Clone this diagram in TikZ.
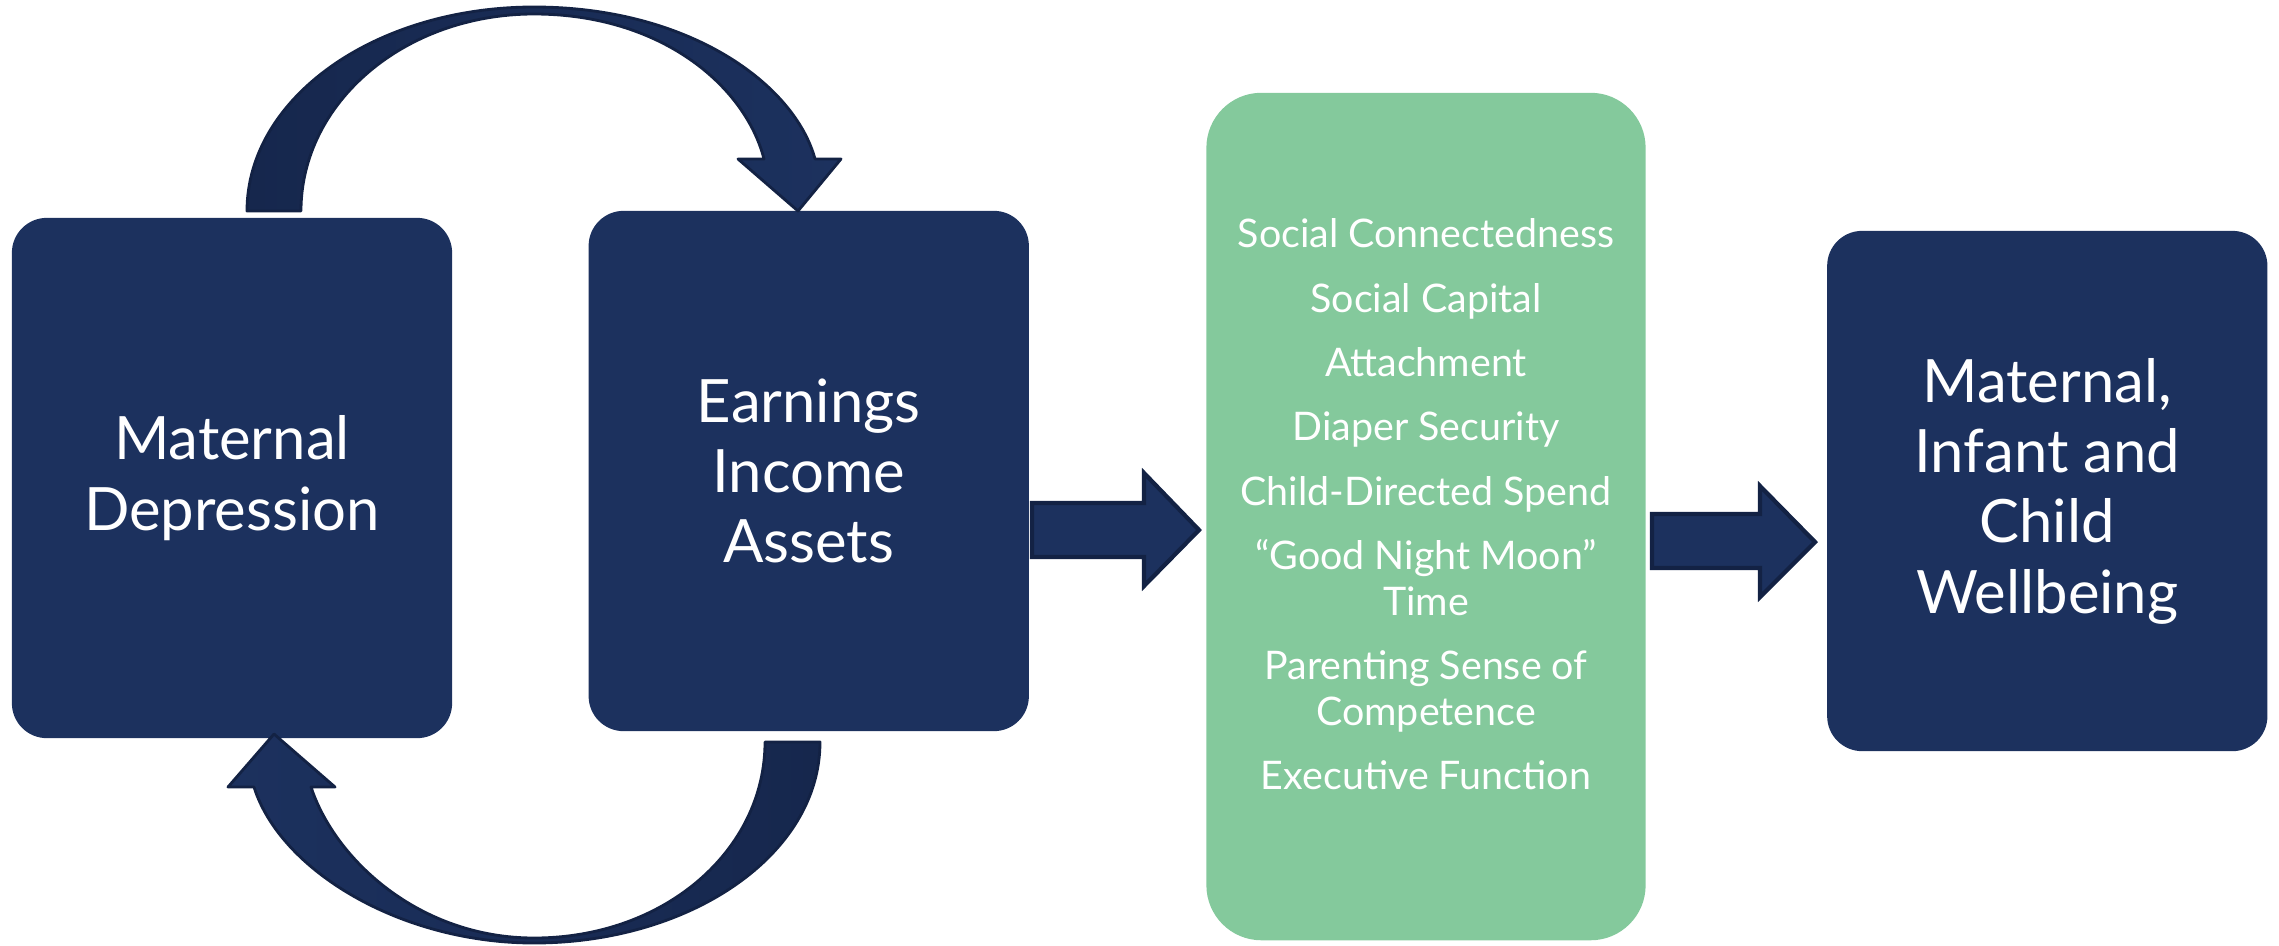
\documentclass[tikz,border=0pt]{standalone}
\usepackage{fontspec}
\setmainfont{Lato}
\usetikzlibrary{positioning}

\definecolor{navy}{RGB}{28,49,94}
\definecolor{navydark}{RGB}{22,39,77}
\definecolor{navyline}{RGB}{19,34,68}
\definecolor{mint}{RGB}{132,201,156}

\begin{document}
\begin{tikzpicture}[x=0.01cm, y=-0.01cm,
    main/.style = {rounded corners=0.35cm, fill=navy, text=white, minimum width=4.4cm, minimum height=5.2cm, align=center, font=\fontsize{17}{20}\selectfont},
    mid/.style = {rounded corners=0.55cm, fill=mint, text=white, minimum width=4.39cm, minimum height=8.47cm, align=center, font=\fontsize{11.2}{13}\selectfont},
    loopy/.style = {draw=navyline, line width=0.8pt, line join=round},
    fat/.style = {fill=navy, draw=navyline, line width=1.2pt, line join=miter}]
            \useasboundingbox (0,0) rectangle (2279,945);
            \node[main] (1) at (232,478) {Maternal\\Depression};
            \node[main] (2) [right=1.35cm of 1, yshift=0.07cm] {Earnings\\Income\\Assets};
            \node[mid] (3) [right=1.76cm of 2, yshift=-0.455cm] {Social Connectedness\\[5.3pt]
                Social Capital\\[5.3pt] Attachment\\[5.3pt] Diaper Security\\[5.3pt]
                Child-Directed Spend\\[5.3pt] “Good Night Moon”\\Time\\[5.3pt]
                Parenting Sense of\\Competence\\[5.3pt] Executive Function\\[-6pt]\mbox{}};
            \node[main] (4) [right=1.8cm of 3, yshift=0.255cm] {Maternal,\\Infant and\\Child\\Wellbeing};
            % loop arrows between 1 and 2
            \draw[loopy, left color=navydark, right color=navy] (247,211) .. controls (247,98) and (375,7) .. (534,7)
                .. controls (690,7) and (795,85) .. (815,159) -- (841,159) -- (798,211) -- (738,159) -- (764,159)
                .. controls (745,85) and (660,14) .. (534,14) .. controls (405,14) and (301,102) .. (301,211) -- cycle;
            \draw[loopy, left color=navy, right color=navydark] (820,742) .. controls (820,855) and (690,943) .. (534,943)
                .. controls (400,943) and (280,870) .. (254,787) -- (228,787) -- (274,734) -- (335,787) -- (311,787)
                .. controls (335,860) and (420,938) .. (534,938) .. controls (665,938) and (765,850) .. (765,742) -- cycle;
            % block arrows
            \draw[fat] (1032,503) -- (1144,503) -- (1144,473) -- (1199,530) -- (1144,586) -- (1144,557) -- (1032,557) -- cycle;
            \draw[fat] (1652,514) -- (1760,514) -- (1760,486) -- (1815,542) -- (1760,597) -- (1760,568) -- (1652,568) -- cycle;
        \end{tikzpicture}
\end{document}
